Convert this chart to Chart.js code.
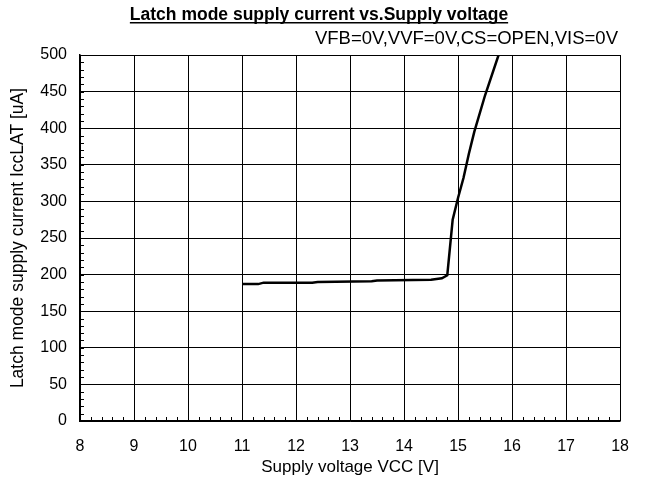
<!DOCTYPE html>
<html>
<head>
<meta charset="utf-8">
<script src="https://cdn.jsdelivr.net/npm/chart.js@4"></script>
<style>
  html, body { margin: 0; padding: 0; background: #fff; }
  #wrap { width: 645px; height: 484px; position: relative; }
</style>
</head>
<body>
<div id="wrap"><canvas id="chart" width="645" height="484"></canvas></div>
<script>
"use strict";

// supply voltage VCC [V]
const vcc = [11.0, 11.3, 11.4, 12.3, 12.4, 13.4, 13.5, 14.5, 14.7, 14.8, 14.9, 15.0, 15.1, 15.2, 15.3, 15.5, 15.75];
// latch mode supply current IccLAT [uA]
const iccLat = [187, 187, 189, 189, 190, 191, 192, 193, 195, 199, 275, 305, 332, 365, 395, 445, 500];

const xTicks = [8, 9, 10, 11, 12, 13, 14, 15, 16, 17, 18];
const yTicks = [0, 50, 100, 150, 200, 250, 300, 350, 400, 450, 500];

const titleText = 'Latch mode supply current vs.Supply voltage';
const subText = 'VFB=0V,VVF=0V,CS=OPEN,VIS=0V';
const FONT = 'Arial, "Liberation Sans", sans-serif';

// inward minor ticks + title text
const extras = {
    id: 'extras',
    afterDatasetsDraw(chart) {
        const ctx = chart.ctx;
        const area = chart.chartArea;
        const xs = chart.scales.x;
        const ys = chart.scales.y;
        ctx.save();
        ctx.strokeStyle = '#000';
        ctx.lineWidth = 1;
        ctx.beginPath();
        for (let v = xTicks[0]; v <= xTicks[xTicks.length - 1] + 1e-9; v += 0.2) {
            const px = Math.round(xs.getPixelForValue(v)) + 0.5;
            ctx.moveTo(px, area.bottom);
            ctx.lineTo(px, area.bottom - 4);
        }
        for (let v = 0; v <= 500; v += 10) {
            const py = Math.round(ys.getPixelForValue(v)) + 0.5;
            ctx.moveTo(area.left, py);
            ctx.lineTo(area.left + 4, py);
        }
        ctx.stroke();

        // title, bold + underline
        ctx.fillStyle = '#000';
        ctx.font = 'bold 17.5px ' + FONT;
        ctx.textAlign = 'center';
        ctx.textBaseline = 'alphabetic';
        const tx = 319, ty = 20;
        ctx.fillText(titleText, tx, ty);
        const w = ctx.measureText(titleText).width;
        ctx.fillRect(tx - w / 2, ty + 2, w, 1.5);

        ctx.font = '18.5px ' + FONT;
        ctx.textAlign = 'right';
        ctx.fillText(subText, 618, 44);
        ctx.restore();
    }
};

const ctx = document.getElementById('chart').getContext('2d');

new Chart(ctx, {
    type: 'scatter',
    data: {
        datasets: [{
            data: vcc.map((v, i) => ({ x: v, y: iccLat[i] })),
            showLine: true,
            borderColor: '#000',
            borderWidth: 2.5,
            pointRadius: 0,
            tension: 0,
            fill: false
        }]
    },
    options: {
        responsive: false,
        animation: false,
        layout: { padding: { left: 0, right: 23, top: 55, bottom: 0 } },
        plugins: {
            legend: { display: false },
            tooltip: { enabled: false }
        },
        scales: {
            x: {
                type: 'linear',
                min: 8,
                max: 18,
                afterBuildTicks: (s) => { s.ticks = xTicks.map(v => ({ value: v })); },
                afterFit: (s) => { s.height = 63; },
                grid: { color: '#000', lineWidth: 1, drawTicks: false },
                border: { color: '#000', width: 1.5 },
                ticks: { color: '#000', font: { family: FONT, size: 16 }, padding: 16, maxRotation: 0 },
                title: {
                    display: true,
                    text: 'Supply voltage VCC [V]',
                    color: '#000',
                    font: { family: FONT, size: 17 },
                    padding: { top: 0, bottom: 6 }
                }
            },
            y: {
                type: 'linear',
                min: 0,
                max: 500,
                afterBuildTicks: (s) => { s.ticks = yTicks.map(v => ({ value: v })); },
                afterFit: (s) => { s.width = 80; },
                grid: { color: '#000', lineWidth: 1, drawTicks: false },
                border: { color: '#000', width: 1.5 },
                ticks: { color: '#000', font: { family: FONT, size: 16 }, padding: 13 },
                title: {
                    display: true,
                    text: 'Latch mode supply current IccLAT [uA]',
                    color: '#000',
                    font: { family: FONT, size: 17.5 },
                    padding: { top: 8, bottom: 0 }
                }
            }
        }
    },
    plugins: [extras]
});
</script>
</body>
</html>
